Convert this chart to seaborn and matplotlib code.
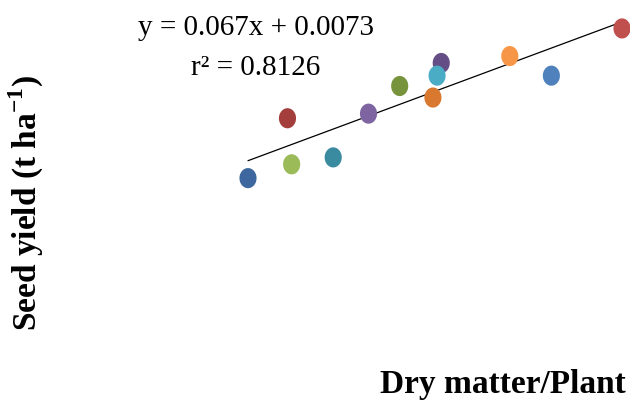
import numpy as np
import pandas as pd
import matplotlib
matplotlib.use("Agg")
import matplotlib.pyplot as plt
from matplotlib.path import Path
import seaborn as sns

# dry matter per plant vs seed yield, one point per treatment
dry_matter = [12.0, 13.9, 14.1, 16.1, 17.8, 19.3, 20.9, 21.3, 21.1, 24.6, 26.6, 30.0]
seed_yield = [0.66, 1.18, 0.78, 0.84, 1.22, 1.46, 1.36, 1.66, 1.55, 1.72, 1.55, 1.96]
point_ids = [f"T{i+1}" for i in range(len(dry_matter))]
point_colors = ["#3d679e", "#a43e3c", "#9bbb59", "#3a8b9f", "#7f64a2", "#77933c",
                "#d9782f", "#654d85", "#4bacc6", "#f79646", "#4f81bd", "#c0504d"]
slope, intercept = 0.067, 0.0073
r2 = 0.8126

df = pd.DataFrame({"dm": dry_matter, "sy": seed_yield, "id": point_ids})

sns.set_style("white")
plt.rcParams["mathtext.fontset"] = "custom"
plt.rcParams["mathtext.rm"] = "Liberation Serif"
plt.rcParams["mathtext.bf"] = "Liberation Serif:bold"

fig = plt.figure(figsize=(6.3, 4.03), dpi=100)
ax = fig.add_axes([0, 0, 1, 1])

# slightly tall ellipse markers like the original
t = np.linspace(0, 2 * np.pi, 80)
ellipse = Path(np.column_stack([0.85 * np.cos(t), np.sin(t)]), closed=True)

# trend line
xl = np.array([min(dry_matter), 29.8])
ax.plot(xl, slope * xl + intercept, color="black", lw=0.9, zorder=1)

sns.scatterplot(data=df, x="dm", y="sy", hue="id", palette=point_colors,
                marker=ellipse, s=210, linewidth=0, legend=False, ax=ax, zorder=2)

ax.set_xlim(0.064, 30.385)
ax.set_ylim(-1.293, 2.207)
ax.axis("off")

serif = ["Liberation Serif", "DejaVu Serif"]
fig.text(0.406, 0.93, "y = 0.067x + 0.0073", family=serif, fontsize=21,
         color="black", ha="center", va="center")
fig.text(0.405, 0.831, f"r² = {r2}", family=serif, fontsize=21,
         color="black", ha="center", va="center")
fig.text(0.042, 0.496, "Seed yield (t ha$^{\\mathbf{-1}}$)", family=serif,
         fontsize=24, fontweight="bold", color="black", rotation=90,
         ha="center", va="center")
fig.text(0.798, 0.024, "Dry matter/Plant", family=serif, fontsize=24,
         fontweight="bold", color="black", ha="center", va="baseline")

fig.savefig("out.png", dpi=100)
